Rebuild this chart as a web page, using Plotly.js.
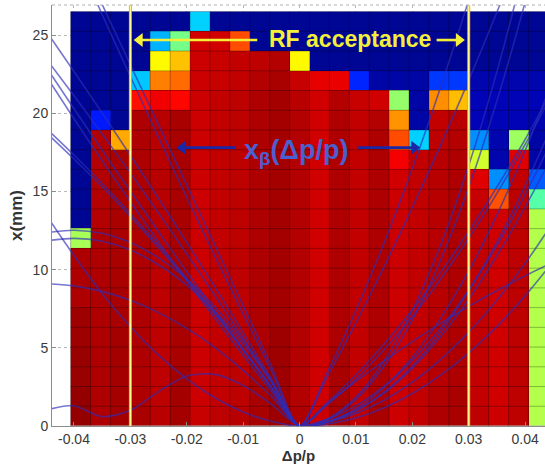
<!DOCTYPE html>
<html><head><meta charset="utf-8">
<script src="https://cdn.plot.ly/plotly-3.0.1.min.js"></script>
<style>html,body{margin:0;padding:0;overflow:hidden;background:#fff}</style>
</head><body><div id="chart" style="width:545px;height:468px"></div>
<script>
// Δp/p bin centres (columns) and x(mm) bin centres (rows)
const colCenters = [-0.038824,-0.035294,-0.031765,-0.028235,-0.024706,-0.021176,-0.017647,-0.014118,-0.010588,-0.007059,-0.003529,0,0.003529,0.007059,0.010588,0.014118,0.017647,0.021176,0.024706,0.028235,0.031765,0.035294,0.038824,0.042353];
const rowCenters = [0.631,1.893,3.155,4.417,5.679,6.940,8.202,9.464,10.726,11.988,13.250,14.512,15.774,17.036,18.298,19.560,20.821,22.083,23.345,24.607,25.869];
// normalised survival (jet colour index), row 0 = bottom
const zValues = [
[.98,.955,.965,.96,.945,.965,.93,.94,.945,.96,.97,.955,.925,.96,.935,.96,.925,.935,.955,.96,.94,.925,.94,.55],
[.98,.955,.965,.955,.94,.965,.925,.935,.94,.96,.97,.95,.92,.96,.935,.955,.925,.935,.95,.96,.935,.92,.94,.55],
[.975,.955,.965,.955,.94,.965,.925,.935,.94,.96,.97,.95,.92,.96,.935,.955,.925,.935,.945,.955,.935,.92,.94,.55],
[.975,.955,.965,.955,.94,.96,.925,.935,.94,.96,.97,.95,.92,.96,.935,.955,.925,.935,.945,.955,.935,.92,.94,.55],
[.97,.955,.965,.955,.94,.96,.925,.935,.94,.955,.97,.95,.92,.955,.935,.955,.925,.935,.945,.955,.935,.92,.94,.55],
[.97,.955,.96,.955,.94,.96,.925,.935,.94,.955,.965,.95,.92,.955,.935,.955,.925,.935,.945,.955,.935,.92,.94,.55],
[.955,.955,.96,.955,.94,.96,.925,.935,.94,.955,.965,.95,.92,.955,.935,.955,.925,.935,.945,.955,.935,.92,.94,.55],
[.955,.955,.96,.955,.94,.96,.925,.935,.94,.955,.965,.95,.92,.955,.935,.955,.925,.935,.945,.955,.935,.92,.94,.55],
[.955,.955,.96,.955,.945,.96,.925,.935,.94,.955,.965,.95,.92,.955,.935,.955,.925,.935,.945,.955,.935,.92,.94,.55],
[.54,.955,.96,.955,.945,.96,.925,.935,.94,.955,.965,.95,.92,.955,.935,.955,.925,.935,.945,.955,.935,.92,.94,.55],
[0,.95,.96,.955,.945,.96,.925,.935,.94,.955,.965,.95,.92,.955,.935,.955,.925,.935,.945,.955,.935,.92,.94,.55],
[0,.95,.96,.955,.945,.96,.925,.935,.94,.955,.965,.95,.92,.955,.935,.955,.925,.935,.945,.955,.93,.795,.94,.46],
[0,.95,.96,.955,.945,.96,.925,.935,.94,.955,.965,.95,.92,.955,.935,.955,.92,.935,.945,.955,.905,.265,.935,.215],
[0,.95,.96,.955,.945,.96,.925,.935,.94,.955,.965,.95,.92,.955,.935,.955,.885,.935,.945,.955,.58,.03,.905,.02],
[0,.95,.71,.955,.945,.96,.925,.935,.94,.955,.965,.95,.92,.955,.935,.955,.80,.33,.94,.95,.265,.03,.53,.02],
[0,.15,0,.955,.945,.96,.925,.935,.94,.955,.965,.95,.92,.955,.935,.95,.73,.02,.935,.945,.04,.04,.04,.03],
[0,0,0,.86,.89,.87,.925,.935,.94,.955,.965,.945,.92,.95,.93,.92,.52,.02,.735,.69,.04,.04,.04,.04],
[0,0,0,.32,.75,.77,.925,.93,.935,.95,.96,.93,.90,.895,.16,.02,.02,.02,.18,.18,.03,.03,.03,.03],
[0,0,0,0,.63,.685,.925,.93,.935,.94,.95,.63,0,0,0,0,0,0,0,0,0,0,0,0],
[0,0,0,0,.30,.49,.92,.92,.80,0,0,0,0,0,0,0,0,0,0,0,0,0,0,0],
[0,0,0,0,0,0,.33,0,0,0,0,0,0,0,0,0,0,0,0,0,0,0,0,0]
];
// x_beta(Δp/p) trajectories sampled on a common Δp/p grid
const dGrid = [-0.044,-0.04,-0.035,-0.03,-0.025,-0.02,-0.015,-0.01,-0.005,0,0.005,0.01,0.015,0.02,0.025,0.03,0.035,0.04,0.044];
const curve01 = [33.9,30.8,26.95,23.1,19.25,15.4,11.55,7.7,3.85,0,3.49,7.39,11.72,16.47,21.65,27.24,33.3,39.7,45.2];
const curve02 = [33.7,30.4,26.3,22.35,18.44,14.6,10.84,7.15,3.54,0,3.21,6.6,10.19,13.97,17.94,22.1,26.46,31.0,34.8];
const curve03 = [24.76,22.67,20.01,17.3,14.55,11.74,8.88,5.97,3.01,0,0.46,1.85,4.16,7.4,11.56,16.65,22.66,29.6,35.8];
const curve04 = [23.04,21.12,18.67,16.17,13.61,11.0,8.33,5.61,2.83,0,0.42,1.70,3.82,6.78,10.6,15.26,20.78,27.1,32.8];
const curve05 = [22.44,20.29,17.63,15.0,12.42,9.86,7.34,4.86,2.41,0,0.24,0.96,2.16,3.84,6.0,8.64,11.76,15.36,18.6];
const curve06 = [21.86,19.65,16.96,14.33,11.77,9.28,6.86,4.51,2.22,0,1.53,3.28,5.24,7.43,9.82,12.44,15.28,18.32,20.92];
const curve07 = [18.72,17.33,15.51,13.59,11.57,9.45,7.24,4.92,2.51,0,1.38,3.0,4.88,7.0,9.38,12.0,14.88,18.0,20.68];
const curve08 = [18.44,17.07,15.28,13.39,11.4,9.31,7.13,4.85,2.47,0,0.13,0.52,1.17,2.08,3.25,4.68,6.37,8.32,10.07];
const curve09 = [12.4,12.52,12.32,11.73,10.75,9.38,7.62,5.47,2.93,0,0.25,0.8,1.65,2.8,4.25,6.0,8.05,10.4,12.5];
const curve10 = [11.88,12.0,11.81,11.25,10.31,9.0,7.31,5.25,2.81,0,1.46,2.85,4.16,5.4,6.56,7.65,8.66,9.6,10.3];
const curve11 = [9.08,8.96,8.61,8.04,7.25,6.24,5.01,3.56,1.89,0,0.3,1.0,2.1,3.7,5.7,8.1,10.9,14.0,16.7];
const curve12 = [13.0,10.9,8.46,6.35,4.53,3.02,1.81,0.9,0.3,0,0.45,1.3,2.55,4.2,6.25,8.7,11.55,14.8,17.7];
const curve13 = [1.1,1.3,0.6,1.0,2.2,3.2,3.3,2.6,1.4,0,0.28,1.1,2.48,4.4,6.88,9.9,13.5,17.6,21.3];
const curves = [curve01,curve02,curve03,curve04,curve05,curve06,curve07,curve08,curve09,curve10,curve11,curve12,curve13];
// RF acceptance limits
const rfLimits = [-0.03, 0.03];
// tick labels
const xTickVals = [-0.04,-0.03,-0.02,-0.01,0,0.01,0.02,0.03,0.04];
const xTickText = ['-0.04','-0.03','-0.02','-0.01','0','0.01','0.02','0.03','0.04'];
const yTickVals = [0,5,10,15,20,25];
const yTickText = ['0','5','10','15','20','25'];
// annotation arrows: [tail, tip] in Δp/p, at a fixed x(mm)
const rfArrowY = 24.68;
const rfArrows = [[-0.0075,-0.0295],[0.0243,0.0294]];
const xbArrowY = 17.8;
const xbArrows = [[-0.0113,-0.0219],[0.0104,0.0215]];

const jet = [[0,'rgb(0,6,148)'],[0.125,'rgb(0,0,255)'],[0.375,'rgb(0,255,255)'],[0.625,'rgb(255,255,0)'],[0.875,'rgb(255,0,0)'],[1,'rgb(128,0,0)']];

// cell border segments from bin centres
const hw = (colCenters[1]-colCenters[0])/2, hh = (rowCenters[1]-rowCenters[0])/2;
const xEdges = colCenters.map(c=>c-hw).concat([colCenters[colCenters.length-1]+hw]);
const yEdges = rowCenters.map(c=>c-hh).concat([rowCenters[rowCenters.length-1]+hh]);
const gx = [], gy = [];
xEdges.forEach(e=>{gx.push(e,e,null); gy.push(yEdges[0],yEdges[yEdges.length-1],null);});
yEdges.forEach(e=>{gx.push(xEdges[0],xEdges[xEdges.length-1],null); gy.push(e,e,null);});

const FONT = 'Liberation Sans, Arial, Helvetica, sans-serif';
const traces = [
  {type:'heatmap', x:colCenters, y:rowCenters, z:zValues, colorscale:jet, zmin:0, zmax:1, showscale:false, hoverinfo:'skip'},
  {type:'scatter', mode:'lines', x:gx, y:gy, line:{color:'rgba(0,0,0,0.28)', width:1}, hoverinfo:'skip', showlegend:false}
];
curves.forEach(c=>traces.push({type:'scatter', mode:'lines', x:dGrid, y:c, line:{color:'rgba(45,45,185,0.65)', width:1.6, shape:'spline', smoothing:0.8}, hoverinfo:'skip', showlegend:false}));

const PX = 0.0435*2/493; // approx Δp/p per pixel
function addArrow(pair, yv, color){
  const tail = pair[0], tip = pair[1], dir = Math.sign(tip-tail);
  const c = tip - dir*6.5*PX;
  traces.push({type:'scatter', mode:'lines', x:[tail,c], y:[yv,yv], line:{color:color, width:2.6}, hoverinfo:'skip', showlegend:false, cliponaxis:false});
  traces.push({type:'scatter', mode:'markers', x:[c], y:[yv], marker:{symbol: dir<0?'triangle-left':'triangle-right', size:12, color:color, line:{width:0}}, hoverinfo:'skip', showlegend:false});
}

const shapes = [];
rfLimits.forEach(v=>{
  shapes.push({type:'line', xref:'x', yref:'paper', x0:v, x1:v, y0:0, y1:1, line:{color:'#eea838', width:3}});
  shapes.push({type:'line', xref:'x', yref:'paper', x0:v, x1:v, y0:0, y1:1, line:{color:'#ffff90', width:1.2}});
});
shapes.push({type:'line', xref:'paper', yref:'paper', x0:0, x1:1, y0:1, y1:1, line:{color:'#b0b0b0', width:1, dash:'dot'}});

rfArrows.forEach(p=>addArrow(p, rfArrowY, '#f4f03a'));
xbArrows.forEach(p=>addArrow(p, xbArrowY, '#1a28a8'));

const annotations = [
  {x:0.0089, y:24.75, xref:'x', yref:'y', text:'<b>RF acceptance</b>', showarrow:false, font:{family:FONT, size:23, color:'#f4f03a'}},
  {x:-0.0007, y:17.5, xref:'x', yref:'y', text:'<b>x<sub>β</sub>(Δp/p)</b>', showarrow:false, font:{family:FONT, size:27, color:'#4a5fd0'}}
];

const layout = {
  width:545, height:468,
  margin:{l:52, r:0, t:5, b:42},
  paper_bgcolor:'#ffffff', plot_bgcolor:'#ffffff',
  font:{family:FONT, size:14, color:'#3a3a3a'},
  showlegend:false,
  xaxis:{range:[-0.0439,0.04353], tickvals:xTickVals, ticktext:xTickText, ticks:'inside', ticklen:4, tickcolor:'#8c8c8c',
         showline:true, linecolor:'#8c8c8c', linewidth:1, showgrid:true, gridcolor:'#b8b8b8', griddash:'dot', zeroline:false,
         title:{text:'<b>Δp/p</b>', font:{family:FONT, size:15, color:'#333'}, standoff:1}},
  yaxis:{range:[0,26.92], tickvals:yTickVals, ticktext:yTickText, ticks:'inside', ticklen:4, tickcolor:'#8c8c8c',
         showline:true, linecolor:'#8c8c8c', linewidth:1, showgrid:true, gridcolor:'#b8b8b8', griddash:'dot', zeroline:false,
         title:{text:'<b>x(mm)</b>', font:{family:FONT, size:17, color:'#333'}, standoff:5}},
  shapes:shapes, annotations:annotations
};
Plotly.newPlot('chart', traces, layout, {displayModeBar:false, staticPlot:true});
</script></body></html>
